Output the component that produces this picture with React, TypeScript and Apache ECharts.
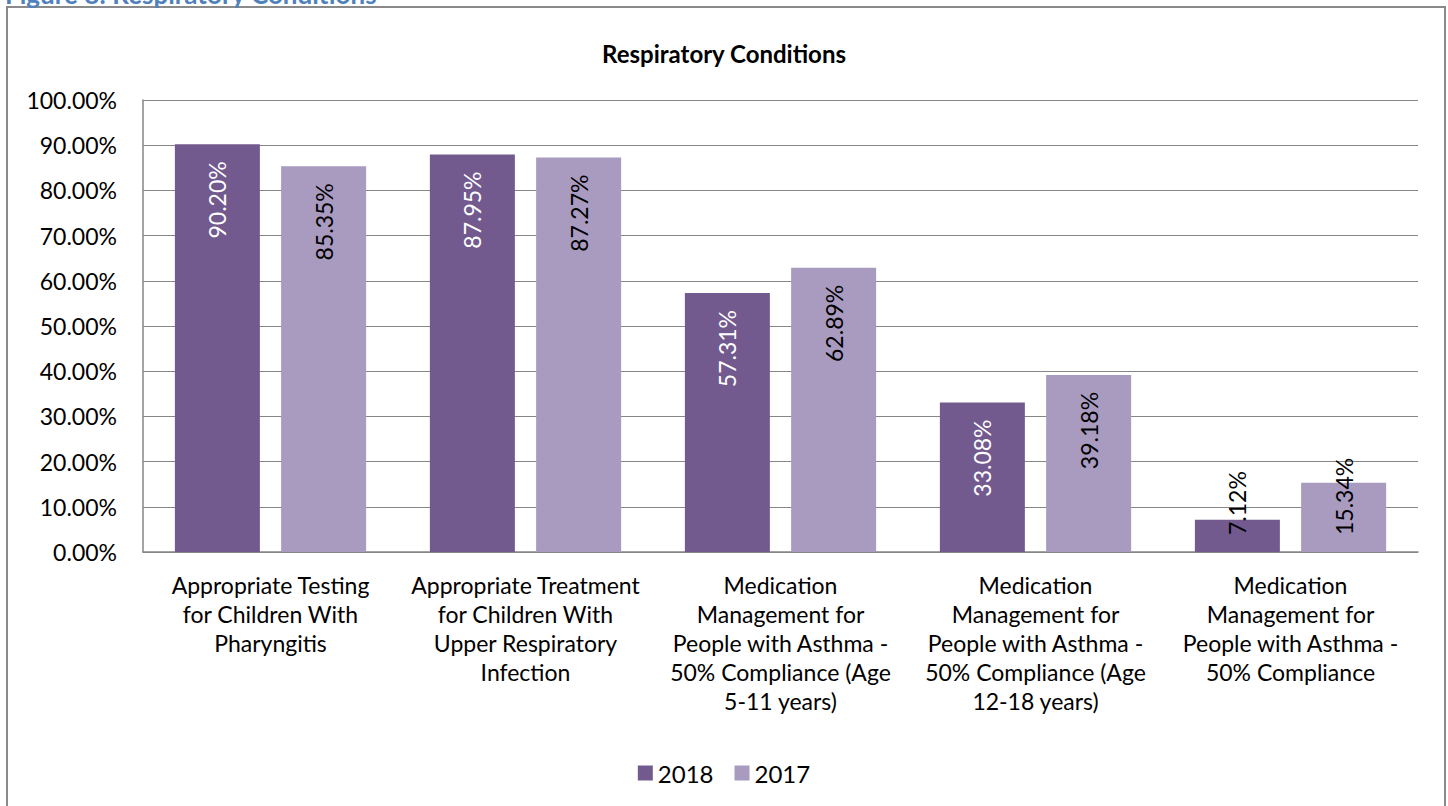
import React, { useEffect, useRef } from "react";
import * as echarts from "echarts";

const categories = [
  "Appropriate Testing\nfor Children With\nPharyngitis",
  "Appropriate Treatment\nfor Children With\nUpper Respiratory\nInfection",
  "Medication\nManagement for\nPeople with Asthma -\n50% Compliance (Age\n5-11 years)",
  "Medication\nManagement for\nPeople with Asthma -\n50% Compliance (Age\n12-18 years)",
  "Medication\nManagement for\nPeople with Asthma -\n50% Compliance",
];
const values2018 = [0.902, 0.8795, 0.5731, 0.3308, 0.0712];
const values2017 = [0.8535, 0.8727, 0.6289, 0.3918, 0.1534];
const seriesNames = ["2018", "2017"];
const colors = ["#725A8F", "#A99BC0"];
const chartTitle = "Respiratory Conditions";
const captionText = "Figure 8: Respiratory Conditions";

const FONT = "Lato, 'Open Sans', sans-serif";

function buildData(values: number[], insideColor: string) {
  return values.map((v) => {
    if (v < 0.2) {
      return {
        value: v,
        label: {
          position: "insideBottom",
          align: "left",
          verticalAlign: "middle",
          distance: 17,
          color: "#000",
        },
      };
    }
    return { value: v, label: { color: insideColor } };
  });
}

export default function App() {
  const ref = useRef<HTMLDivElement>(null);
  useEffect(() => {
    if (!ref.current) return;
    const chart = echarts.init(ref.current, null, { renderer: "svg" });
    const labelBase = {
      show: true,
      position: "insideTop",
      rotate: 90,
      align: "right",
      verticalAlign: "middle",
      distance: 17,
      fontSize: 23,
      fontFamily: FONT,
      formatter: (p: any) => (p.value * 100).toFixed(2) + "%",
    };
    chart.setOption({
      animation: false,
      backgroundColor: "#fff",
      textStyle: { fontFamily: FONT },
      title: {
        text: chartTitle,
        left: "center",
        top: 36,
        textStyle: { fontSize: 24, fontWeight: "bold", color: "#000", fontFamily: FONT },
      },
      legend: {
        data: seriesNames,
        top: 756,
        left: "center",
        icon: "rect",
        itemWidth: 15,
        itemHeight: 15,
        itemGap: 21,
        textStyle: { fontSize: 24, color: "#000", fontFamily: FONT },
      },
      grid: { left: 143, right: 30, top: 100, bottom: 254, containLabel: false },
      xAxis: {
        type: "category",
        data: categories,
        axisTick: { show: false },
        axisLine: { lineStyle: { color: "#868686", width: 1.5 } },
        axisLabel: {
          interval: 0,
          margin: 18,
          fontSize: 23,
          lineHeight: 29,
          color: "#000",
          fontFamily: FONT,
          align: "center",
        },
      },
      yAxis: {
        type: "value",
        min: 0,
        max: 1,
        interval: 0.1,
        axisLine: { show: true, lineStyle: { color: "#868686", width: 1.5 } },
        axisTick: { show: false },
        splitLine: { lineStyle: { color: "#868686", width: 1.2 } },
        axisLabel: {
          margin: 26,
          fontSize: 23,
          color: "#000",
          fontFamily: FONT,
          formatter: (v: number) => (v * 100).toFixed(2) + "%",
        },
      },
      series: [
        {
          name: seriesNames[0],
          type: "bar",
          barWidth: 85,
          barGap: "25%",
          itemStyle: { color: colors[0] },
          label: labelBase,
          data: buildData(values2018, "#fff"),
        },
        {
          name: seriesNames[1],
          type: "bar",
          barWidth: 85,
          barGap: "25%",
          itemStyle: { color: colors[1] },
          label: labelBase,
          data: buildData(values2017, "#000"),
        },
      ],
      graphic: [
        {
          type: "rect",
          shape: { x: 7, y: 7, width: 1438, height: 900 },
          style: { fill: "none", stroke: "#8a8a8a", lineWidth: 2 },
          silent: true,
        },
        {
          type: "text",
          x: 5,
          y: -19,
          style: {
            text: captionText,
            fontSize: 26,
            fontWeight: "bold",
            fontFamily: FONT,
            fill: "#4F81BD",
          },
          silent: true,
        },
      ],
    });
    return () => chart.dispose();
  }, []);
  return (
    <div
      ref={ref}
      style={{ position: "absolute", left: 0, top: 0, width: 1448, height: 806 }}
    />
  );
}
